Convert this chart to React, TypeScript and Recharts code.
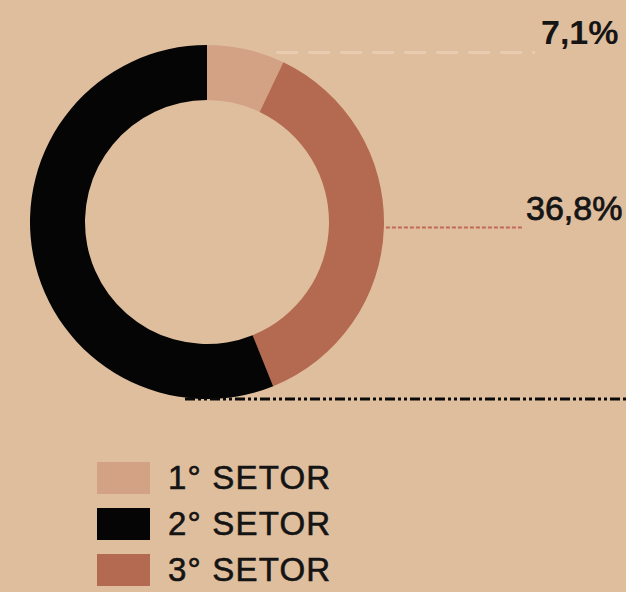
import { Legend, Pie, PieChart, Cell } from "recharts"

const sectors = ["1° SETOR", "2° SETOR", "3° SETOR"]
const sectorColors = ["#D3A285", "#050505", "#B36A51"]
// pie order, clockwise from 12 o'clock: 1°, 3°, 2°
const pieSectors = ["1° SETOR", "3° SETOR", "2° SETOR"]
const pieShares = [7.1, 36.8, 56.1]
const pieLabels = ["7,1%", "36,8%", "56,1%"]

const data = pieSectors.map((name, i) => ({
  name,
  value: pieShares[i],
  label: pieLabels[i],
  color: sectorColors[sectors.indexOf(name)],
}))

const legendItems = sectors.map((s, i) => ({ name: s, color: sectorColors[i] }))

const FONT = "Liberation Sans, Arial"

const renderLabel = (props: any) => {
  const { cx, cy, midAngle, outerRadius, index } = props
  const RAD = Math.PI / 180
  if (index === 0) {
    const x0 = cx + outerRadius * Math.cos(-midAngle * RAD) + 30
    const y0 = cy + outerRadius * Math.sin(-midAngle * RAD) + 3
    return (
      <g>
        <line x1={x0} y1={y0} x2={535} y2={y0} stroke="#E9CBAF" strokeWidth={3} strokeDasharray="22 10" />
        <text x={541} y={44} fontSize={34} fontFamily={FONT} fontWeight="bold" fill="#151515">{data[index].label}</text>
      </g>
    )
  }
  if (index === 1) {
    const x0 = cx + outerRadius * Math.cos(-midAngle * RAD) + 2
    const y0 = cy + outerRadius * Math.sin(-midAngle * RAD)
    return (
      <g>
        <line x1={x0} y1={y0} x2={522} y2={y0} stroke="#C06A55" strokeWidth={2} strokeDasharray="4 2" />
        <text x={526} y={220} fontSize={34} fontFamily={FONT} fill="#151515" stroke="#151515" strokeWidth={0.8}>{data[index].label}</text>
      </g>
    )
  }
  const y0 = cy + outerRadius
  return (
    <line x1={cx - 22} y1={y0} x2={626} y2={y0} stroke="#0A0A0A" strokeWidth={3} strokeDasharray="10 3 3 3 3 3" />
  )
}

const renderLegend = () => (
  <div style={{ fontFamily: FONT, fontSize: 33, color: "#141414", WebkitTextStroke: "0.6px #141414" }}>
    {legendItems.map((it) => (
      <div key={it.name} style={{ display: "flex", alignItems: "center", height: 46 }}>
        <div style={{ width: 53, height: 32, background: it.color, marginRight: 18 }} />
        <span style={{ letterSpacing: 1.2 }}>{it.name}</span>
      </div>
    ))}
  </div>
)

export default function App() {
  return (
    <div style={{ position: "absolute", left: 0, top: 0, width: 626, height: 592, background: "#DFBE9E", overflow: "hidden" }}>
      <PieChart width={626} height={592} margin={{ top: 0, right: 0, bottom: 0, left: 0 }}>
        <Pie
          data={data}
          dataKey="value"
          cx={207}
          cy={222}
          innerRadius={122}
          outerRadius={177}
          startAngle={90}
          endAngle={-270}
          stroke="none"
          label={renderLabel}
          labelLine={false}
          isAnimationActive={false}
        >
          {data.map((d, i) => (
            <Cell key={i} fill={d.color} />
          ))}
        </Pie>
        <Legend
          content={renderLegend}
          layout="vertical"
          wrapperStyle={{ position: "absolute", left: 97, top: 455, width: 340 }}
        />
      </PieChart>
    </div>
  )
}
